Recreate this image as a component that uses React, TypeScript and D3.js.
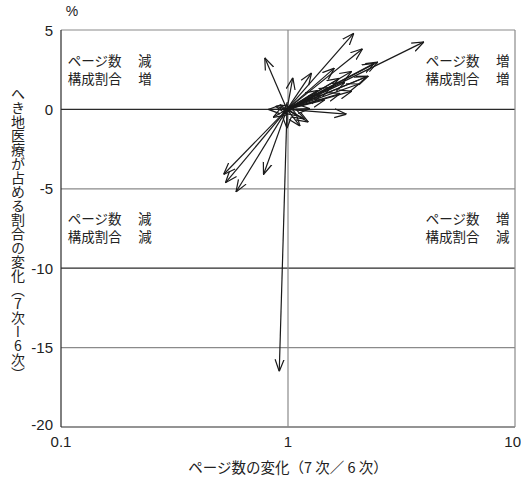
import React, { useEffect, useRef } from 'react';
import * as d3 from 'd3';

// page count ratio (7th / 6th) and change in share (%) for each prefecture plan
const pageRatio = [1.95, 3.97, 2.13, 0.79, 2.49, 2.22, 1.91, 1.81, 0.52, 0.53, 0.59, 0.78, 0.915,
    1.27, 1.05, 1.68, 2.26, 1.78, 1.91, 0.82, 1.25, 1.23, 1.13, 0.99, 1.55, 1.4, 0.86, 1.1, 1.6, 2.4,
    0.92, 1.35, 2.05, 1.7, 0.88, 1.18, 1.45, 0.95];
const shareDelta = [4.8, 4.25, 3.82, 3.25, 2.98, 2.06, 1.15, -0.3, -4.1, -4.62, -5.2, -4.1, -16.5,
    2.3, 2.0, 1.95, 2.1, 1.7, 2.4, 0.0, 0.05, -0.8, -1.05, -1.2, 1.4, 0.9, -0.5, -0.4, 2.6, 2.9,
    0.3, 1.2, 1.6, 1.0, 0.2, -0.6, 0.6, -0.3];

const xTicks = [0.1, 1, 10];
const xTickLabels = ['0.1', '1', '10'];
const yTicks = [5, 0, -5, -10, -15, -20];
const quadrantLabels = [
    { x: 0.107, y: 2.71, lines: ['ページ数　 減', '構成割合　 増'], anchor: 'start' },
    { x: 9.45, y: 2.71, lines: ['ページ数　 増', '構成割合　 増'], anchor: 'end' },
    { x: 0.107, y: -7.24, lines: ['ページ数　 減', '構成割合　 減'], anchor: 'start' },
    { x: 9.45, y: -7.24, lines: ['ページ数　 増', '構成割合　 減'], anchor: 'end' },
];

const font = '"Noto Sans CJK JP", "Liberation Sans", sans-serif';
const numFont = '"Liberation Sans", Arial, sans-serif';

export default function App() {
    const ref = useRef<SVGSVGElement>(null);

    useEffect(() => {
        const width = 521;
        const height = 480;
        const margin = { top: 30, right: 6, bottom: 53, left: 61 };

        const svg = d3.select(ref.current);
        svg.selectAll('*').remove();
        svg.attr('width', width).attr('height', height);

        const x = d3.scaleLog().domain([0.1, 10]).range([margin.left, width - margin.right]);
        const y = d3.scaleLinear().domain([-20, 5]).range([height - margin.bottom, margin.top]);

        svg.append('defs').append('marker')
            .attr('id', 'head')
            .attr('viewBox', '0 0 12 12')
            .attr('refX', 12)
            .attr('refY', 6)
            .attr('markerWidth', 12)
            .attr('markerHeight', 12)
            .attr('markerUnits', 'userSpaceOnUse')
            .attr('orient', 'auto')
            .append('path')
            .attr('d', 'M0,1.5 L12,6 L0,10.5')
            .attr('fill', 'none')
            .attr('stroke', '#1a1a1a')
            .attr('stroke-width', 1.2);

        const gray = '#8a8a8a';
        const dark = '#2a2a2a';

        // grid
        svg.selectAll('.hgrid')
            .data(yTicks)
            .enter().append('line')
            .attr('x1', x(0.1)).attr('x2', x(10))
            .attr('y1', d => y(d)).attr('y2', d => y(d))
            .attr('stroke', d => (d === 0 || d === -10 || d === -20) ? dark : gray)
            .attr('stroke-width', 1.2);
        svg.selectAll('.vgrid')
            .data(xTicks)
            .enter().append('line')
            .attr('x1', d => x(d)).attr('x2', d => x(d))
            .attr('y1', y(5)).attr('y2', y(-20))
            .attr('stroke', d => d === 0.1 ? dark : gray)
            .attr('stroke-width', 1.2);

        // arrows
        const pts = pageRatio.map((v, i) => ({ px: v, py: shareDelta[i] }));
        svg.selectAll('.arrow')
            .data(pts)
            .enter().append('line')
            .attr('x1', x(1) - 1).attr('y1', y(0))
            .attr('x2', d => x(d.px)).attr('y2', d => y(d.py))
            .attr('stroke', '#1a1a1a')
            .attr('stroke-width', 1.2)
            .attr('marker-end', 'url(#head)');

        // y tick labels
        svg.selectAll('.ylab')
            .data(yTicks)
            .enter().append('text')
            .attr('x', 53)
            .attr('y', d => y(d) + (d === -20 ? 3 : 5.5))
            .attr('text-anchor', 'end')
            .attr('font-family', numFont)
            .attr('font-size', 15)
            .attr('fill', '#222')
            .text(d => String(d));

        svg.append('text')
            .attr('x', 72).attr('y', 16)
            .attr('text-anchor', 'middle')
            .attr('font-family', numFont).attr('font-size', 14).attr('fill', '#222')
            .text('%');

        // x tick labels
        svg.selectAll('.xlab')
            .data(xTicks)
            .enter().append('text')
            .attr('x', d => d === 10 ? width : x(d))
            .attr('y', y(-20) + 20)
            .attr('text-anchor', d => d === 10 ? 'end' : 'middle')
            .attr('font-family', numFont)
            .attr('font-size', 15)
            .attr('fill', '#222')
            .text((d, i) => xTickLabels[i]);

        svg.append('text')
            .attr('x', x(1)).attr('y', 473)
            .attr('text-anchor', 'middle')
            .attr('font-family', font).attr('font-size', 14.5).attr('fill', '#222')
            .text('ページ数の変化（7 次／ 6 次）');

        svg.append('text')
            .attr('x', 18).attr('y', 234)
            .attr('text-anchor', 'middle')
            .attr('font-family', font).attr('font-size', 14).attr('fill', '#222')
            .style('writing-mode', 'vertical-rl')
            .style('text-orientation', 'upright')
            .text('へき地医療が占める割合の変化（7次ー6次）');

        // quadrant labels
        quadrantLabels.forEach(q => {
            q.lines.forEach((line, i) => {
                svg.append('text')
                    .attr('x', x(q.x))
                    .attr('y', y(q.y) + i * 18)
                    .attr('text-anchor', q.anchor)
                    .attr('font-family', font)
                    .attr('font-size', 13.5)
                    .attr('fill', '#222')
                    .text(line);
            });
        });
    }, []);

    return (
        <svg ref={ref} style={{ position: 'absolute', left: 0, top: 0, background: '#fff' }}></svg>
    );
}
